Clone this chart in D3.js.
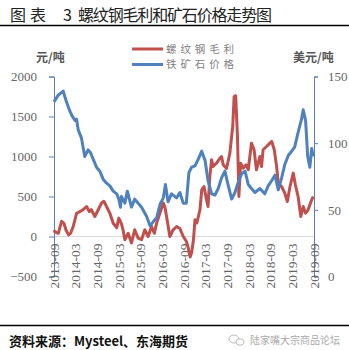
<!DOCTYPE html>
<html><head><meta charset="utf-8">
<script src="https://cdn.jsdelivr.net/npm/d3@7"></script>
<style>html,body{margin:0;padding:0;background:#fff;}svg{display:block;}</style>
</head><body>
<script>
const marginDates = ["2013-09-01","2013-09-08","2013-10-07","2013-11-04","2013-11-24","2013-12-10","2014-01-01","2014-01-19","2014-02-10","2014-03-10","2014-04-06","2014-05-04","2014-06-03","2014-06-25","2014-07-13","2014-08-11","2014-09-09","2014-10-07","2014-10-26","2014-11-18","2014-12-16","2015-01-13","2015-02-12","2015-03-01","2015-03-23","2015-04-06","2015-04-21","2015-05-19","2015-06-16","2015-07-13","2015-08-11","2015-09-09","2015-10-06","2015-11-03","2015-12-02","2015-12-25","2016-01-14","2016-02-11","2016-03-10","2016-03-25","2016-04-16","2016-05-04","2016-06-01","2016-07-01","2016-07-28","2016-08-25","2016-09-20","2016-10-07","2016-10-22","2016-11-04","2016-11-19","2016-12-02","2016-12-18","2017-01-13","2017-01-28","2017-02-16","2017-03-09","2017-03-22","2017-04-06","2017-04-21","2017-05-04","2017-06-02","2017-07-01","2017-07-14","2017-07-28","2017-08-25","2017-09-22","2017-10-16","2017-10-28","2017-11-10","2017-11-25","2017-12-07","2017-12-22","2018-01-13","2018-02-06","2018-02-24","2018-03-23","2018-04-14","2018-05-04","2018-06-02","2018-06-16","2018-06-29","2018-07-28","2018-08-25","2018-09-10","2018-10-01","2018-10-21","2018-11-04","2018-12-02","2018-12-29","2019-01-19","2019-02-11","2019-03-10","2019-03-28","2019-04-20","2019-05-13","2019-06-02","2019-06-22","2019-07-13","2019-08-07","2019-08-25"];
const marginValues = [80,60,40,190,165,84,20,40,125,290,310,335,375,310,335,250,335,420,440,375,290,165,110,230,160,80,-40,40,-80,84,-20,-40,84,0,125,40,167,292,417,360,167,0,84,125,100,0,-60,-145,-255,-200,-42,209,170,334,584,625,459,375,750,959,875,917,980,1000,896,850,1042,1375,1750,1760,1250,500,917,855,896,834,1167,1084,834,1000,875,1084,1125,1167,1188,1084,875,667,625,542,438,625,792,646,500,250,375,292,334,438,500];

const oreDates = ["2013-09-01","2013-09-15","2013-10-07","2013-11-18","2013-12-01","2013-12-15","2014-01-13","2014-01-28","2014-02-25","2014-03-10","2014-03-24","2014-04-20","2014-05-18","2014-06-15","2014-07-05","2014-07-28","2014-08-25","2014-09-22","2014-10-20","2014-11-18","2014-12-16","2015-01-13","2015-02-12","2015-03-01","2015-03-15","2015-03-23","2015-04-21","2015-05-12","2015-06-16","2015-07-13","2015-08-11","2015-09-09","2015-10-22","2015-11-19","2015-12-16","2016-01-14","2016-02-11","2016-03-10","2016-03-28","2016-04-19","2016-05-18","2016-07-01","2016-07-28","2016-08-25","2016-09-20","2016-10-12","2016-11-04","2016-12-02","2016-12-30","2017-01-28","2017-02-25","2017-03-22","2017-04-21","2017-05-19","2017-06-16","2017-07-14","2017-08-11","2017-09-09","2017-10-07","2017-11-04","2017-12-02","2017-12-30","2018-01-28","2018-02-24","2018-03-23","2018-04-21","2018-06-02","2018-07-13","2018-08-11","2018-09-10","2018-10-07","2018-11-04","2018-12-02","2018-12-29","2019-01-28","2019-02-25","2019-03-22","2019-04-20","2019-05-19","2019-06-02","2019-06-22","2019-07-10","2019-07-28","2019-08-13","2019-08-25"];
const oreValues = [131,133,136,139,135,131,124,121,117,118,110,104,90,95,93,88,82,79,73,70,68,64,62,58,52,60,55,64,52,58,55,52,45,38,41,44,54,59,69,56,62,59,63,55,55,78,82,83,88,94,87,72,62,61,66,74,79,68,58,63,71,77,79,69,66,63,66,62,68,72,76,65,74,84,91,94,97,108,118,125,117,90,82,96,90];

const xTickLabels = ["2013-09","2014-03","2014-09","2015-03","2015-09","2016-03","2016-09","2017-03","2017-09","2018-03","2018-09","2019-03","2019-09"];
const leftTicks = [-500,0,500,1000,1500,2000];
const rightTicks = [0,50,100,150];
const seriesNames = ["螺纹钢毛利","铁矿石价格"];
const colors = ["#c0504d","#4f81bd"];

const W = 349, H = 350;
const svg = d3.select("body").append("svg").attr("width", W).attr("height", H);
const parse = d3.timeParse("%Y-%m-%d");
const parseM = d3.timeParse("%Y-%m");
const cjk = "'Noto Sans CJK SC', sans-serif";

const x = d3.scaleTime().domain([parseM("2013-09"), parseM("2019-09")]).range([54, 314]);
const yL = d3.scaleLinear().domain([-500, 2000]).range([276.5, 76.5]);
const yR = d3.scaleLinear().domain([0, 150]).range([276.5, 76.5]);

// title
const tStyle = s => s.attr("font-family", cjk).attr("font-size", 16).attr("fill", "#222");
svg.append("text").attr("x", 10).attr("y", 20.5).call(tStyle).attr("letter-spacing", 4).text("图表");
svg.append("text").attr("x", 63).attr("y", 20.5).call(tStyle).text("3");
svg.append("text").attr("x", 78).attr("y", 20.5).call(tStyle)
  .attr("textLength", 194).attr("lengthAdjust", "spacing").text("螺纹钢毛利和矿石价格走势图");
svg.append("line").attr("x1", 0).attr("x2", W).attr("y1", 25.5).attr("y2", 25.5)
  .attr("stroke", "#000").attr("stroke-width", 1.5);

// units
svg.append("text").attr("x", 36).attr("y", 62)
  .attr("font-family", cjk).attr("font-size", 12).attr("font-weight", "bold")
  .attr("fill", "#555").text("元/吨");
svg.append("text").attr("x", 293).attr("y", 62)
  .attr("font-family", cjk).attr("font-size", 12).attr("font-weight", "bold")
  .attr("fill", "#555").text("美元/吨");

// legend
seriesNames.forEach((n, i) => {
  const yy = 49 + i * 15.5;
  svg.append("line").attr("x1", 132).attr("x2", 163).attr("y1", yy).attr("y2", yy)
    .attr("stroke", colors[i]).attr("stroke-width", 3);
  svg.append("text").attr("x", 166).attr("y", yy).attr("dy", "0.36em")
    .attr("font-family", cjk).attr("font-size", 10.5)
    .attr("textLength", 68).attr("lengthAdjust", "spacing")
    .attr("fill", "#7f7f7f").text(n);
});

// zero line
svg.append("line").attr("x1", 54).attr("x2", 314).attr("y1", yL(0)).attr("y2", yL(0))
  .attr("stroke", "#d9d9d9").attr("stroke-width", 1);

// axes
const axL = svg.append("g").attr("transform", "translate(54,0)")
  .call(d3.axisLeft(yL).tickValues(leftTicks).tickSize(5).tickPadding(12).tickFormat(d3.format("d")));
const axR = svg.append("g").attr("transform", "translate(314,0)")
  .call(d3.axisRight(yR).tickValues(rightTicks).tickSize(4).tickPadding(10).tickFormat(d3.format("d")));
[axL, axR].forEach(a => {
  a.select(".domain").attr("stroke", "#5b7db8").attr("stroke-width", 1);
  a.selectAll(".tick line").attr("stroke", "#5b7db8");
  a.selectAll(".tick text").attr("font-family", "'Liberation Serif', serif").attr("font-size", 13).attr("fill", "#666");
});

// x labels
svg.append("g").selectAll("text").data(xTickLabels).join("text")
  .attr("transform", d => `translate(${x(parseM(d))},${yL(0) + 7}) rotate(-90)`)
  .attr("text-anchor", "end").attr("dy", "0.35em")
  .attr("font-family", "'Liberation Serif', serif").attr("font-size", 13.5).attr("fill", "#666")
  .text(d => d);

// lines
const redData = marginDates.map((d, i) => [parse(d), marginValues[i]]);
const blueData = oreDates.map((d, i) => [parse(d), oreValues[i]]);
svg.append("path").datum(redData)
  .attr("d", d3.line().x(d => x(d[0])).y(d => yL(d[1])))
  .attr("fill", "none").attr("stroke", colors[0]).attr("stroke-width", 3).attr("stroke-linejoin", "round");
svg.append("path").datum(blueData)
  .attr("d", d3.line().x(d => x(d[0])).y(d => yR(d[1])))
  .attr("fill", "none").attr("stroke", colors[1]).attr("stroke-width", 3).attr("stroke-linejoin", "round");

// footer
svg.append("line").attr("x1", 0).attr("x2", W).attr("y1", 325.5).attr("y2", 325.5)
  .attr("stroke", "#000").attr("stroke-width", 1.5);
svg.append("text").attr("x", 9).attr("y", 346)
  .attr("font-family", cjk).attr("font-size", 13).attr("font-weight", "bold")
  .attr("fill", "#111").text("资料来源：Mysteel、东海期货");
svg.append("text").attr("x", 250).attr("y", 344)
  .attr("font-family", cjk).attr("font-size", 10)
  .attr("fill", "#aaa").text("陆家嘴大宗商品论坛");
svg.append("ellipse").attr("cx", 234).attr("cy", 339).attr("rx", 5).attr("ry", 4)
  .attr("fill", "none").attr("stroke", "#bbb").attr("stroke-width", 1);
svg.append("ellipse").attr("cx", 240).attr("cy", 342).attr("rx", 4).attr("ry", 3.3)
  .attr("fill", "#fff").attr("stroke", "#bbb").attr("stroke-width", 1);
</script>
</body></html>
